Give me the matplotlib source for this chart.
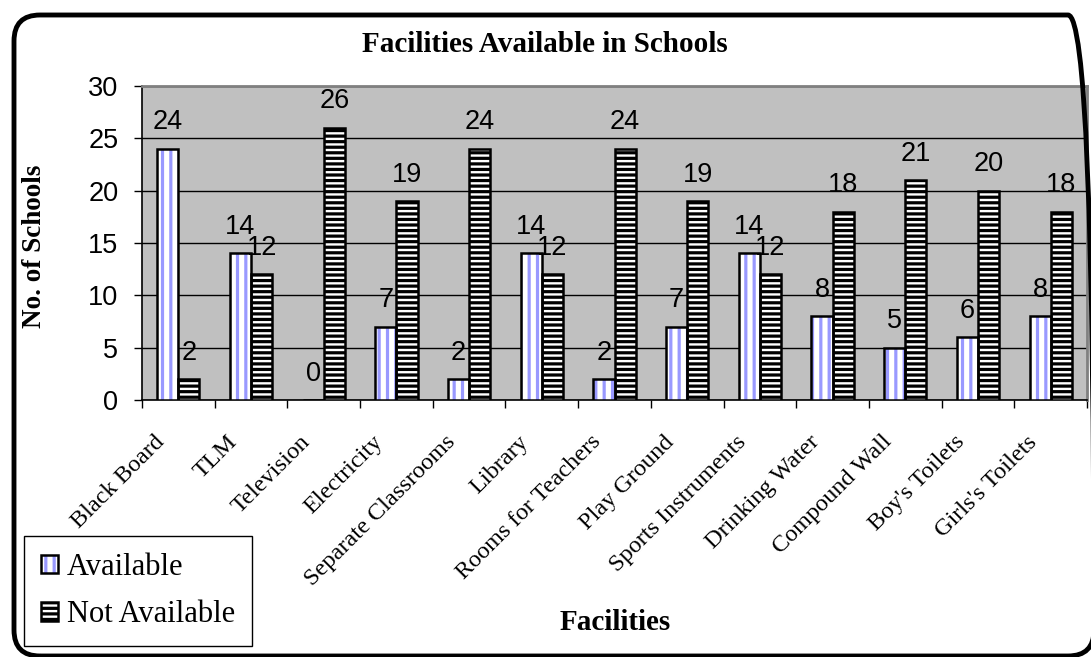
import numpy as np
import matplotlib
matplotlib.use('Agg')
import matplotlib.pyplot as plt
from matplotlib.patches import FancyBboxPatch, Patch
from matplotlib.transforms import IdentityTransform

# data
facilities = ['Black Board', 'TLM', 'Television', 'Electricity', 'Separate Classrooms',
              'Library', 'Rooms for Teachers', 'Play Ground', 'Sports Instruments',
              'Drinking Water', 'Compound Wall', "Boy's Toilets", "Girls's Toilets"]
available = [24, 14, 0, 7, 2, 14, 2, 7, 14, 8, 5, 6, 8]
not_available = [2, 12, 26, 19, 24, 12, 24, 19, 12, 18, 21, 20, 18]

W, H = 1091, 657
SANS = 'Liberation Sans'
SERIF = 'Liberation Serif'
BLUE = '#9999FF'

plt.rcParams['hatch.linewidth'] = 2.3

fig = plt.figure(figsize=(W / 100, H / 100), dpi=100)
ax = fig.add_axes([142 / W, 1 - 400 / H, (1087 - 142) / W, (400 - 86) / H])
ax.set_facecolor('#C0C0C0')

x = np.arange(len(facilities))
w = 0.29

# available: white with blue vertical stripes, black outline
ax.bar(x - w / 2, available, w, color='white', edgecolor=BLUE, hatch='||', linewidth=0, zorder=3)
ax.bar(x - w / 2, available, w, fill=False, edgecolor='black', linewidth=1.8, zorder=4)
# not available: white with black horizontal stripes
ax.bar(x + w / 2, not_available, w, color='white', edgecolor='black', hatch='---',
       linewidth=1.8, zorder=3)

# value labels
for xi, v in zip(x - w / 2, available):
    ax.annotate(str(v), (xi, v), xytext=(0, 14), textcoords='offset points',
                ha='center', va='baseline', fontsize=19.5, family=SANS, zorder=5)
for xi, v in zip(x + w / 2, not_available):
    ax.annotate(str(v), (xi, v), xytext=(0, 14), textcoords='offset points',
                ha='center', va='baseline', fontsize=19.5, family=SANS, zorder=5)

ax.set_xlim(-0.5, len(facilities) - 0.5)
ax.set_ylim(0, 30)
ax.set_yticks(range(0, 31, 5))
ax.yaxis.grid(True, color='black', linewidth=1.0, zorder=1)
ax.set_axisbelow(True)

# category labels, rotated, ending just left of each category centre
ax.set_xticks(np.arange(-0.5, len(facilities)))
ax.set_xticklabels([])
for xi, name in zip(x, facilities):
    ax.annotate(name, (xi, 0), xytext=(-12, -28), textcoords='offset points',
                rotation=45, ha='right', va='center', rotation_mode='anchor',
                fontsize=17.5, family=SERIF, annotation_clip=False)
ax.tick_params(axis='x', length=6, direction='out', width=1)
ax.tick_params(axis='y', length=6, direction='out', width=1, pad=11)
for lab in ax.get_yticklabels():
    lab.set_fontsize(19.5)
    lab.set_family(SANS)

for s in ['top', 'right']:
    ax.spines[s].set_color('#808080')
    ax.spines[s].set_linewidth(2)
for s in ['bottom', 'left']:
    ax.spines[s].set_color('black')
    ax.spines[s].set_linewidth(1.2)

fig.text(545 / W, 1 - 45 / H, 'Facilities Available in Schools', ha='center', va='center',
         fontsize=21, fontweight='bold', family=SERIF)
fig.text(35 / W, 1 - 246 / H, 'No. of Schools', ha='center', va='center', rotation=90,
         fontsize=19.5, fontweight='bold', family=SERIF)
fig.text(615 / W, 1 - 622 / H, 'Facilities', ha='center', va='center',
         fontsize=21, fontweight='bold', family=SERIF)

# legend
h_av = (Patch(facecolor='white', edgecolor=BLUE, hatch='||', linewidth=0),
        Patch(fill=False, edgecolor='black', linewidth=1.8))
h_na = Patch(facecolor='white', edgecolor='black', hatch='---', linewidth=1.8)
leg = fig.legend([h_av, h_na], ['Available', 'Not Available'], loc='upper left',
                 bbox_to_anchor=(24 / W, 1 - 536 / H), borderaxespad=0,
                 prop={'family': SERIF, 'size': 22}, handlelength=0.55, handleheight=0.55,
                 handletextpad=0.3, labelspacing=0.6, borderpad=0.55, fancybox=False,
                 edgecolor='black', framealpha=1)
leg.get_frame().set_linewidth(1)

# rounded outer frame, in pixel coordinates (partly cut off at right and bottom)
frame = FancyBboxPatch((14, 1), 1094 - 14, 642 - 1,
                       boxstyle='round,pad=0,rounding_size=26', transform=IdentityTransform(),
                       fill=False, edgecolor='black', linewidth=3.5, clip_on=False)
fig.patches.append(frame)

fig.savefig('out.png', dpi=100)
